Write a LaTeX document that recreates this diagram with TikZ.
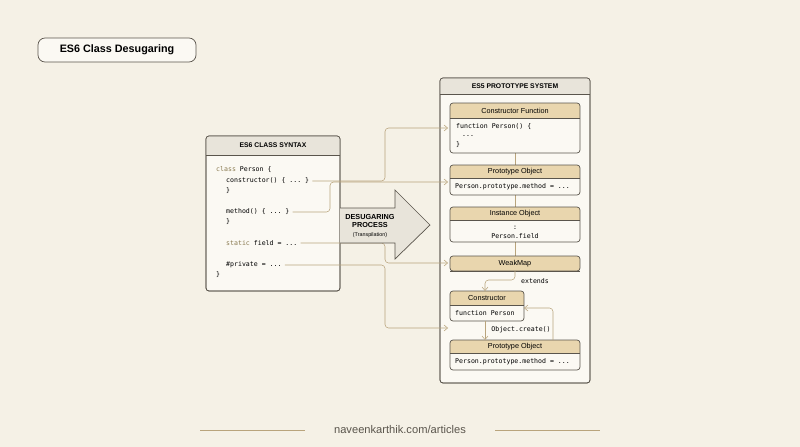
\documentclass[tikz,border=0pt]{standalone}
\usepackage{fontspec}
\setmainfont{Liberation Sans}
\setmonofont{DejaVu Sans Mono}
\usetikzlibrary{arrows.meta}
\definecolor{bg}{HTML}{F5F1E6}
\definecolor{boxf}{HTML}{FBF9F3}
\definecolor{tan}{HTML}{E9D6AE}
\definecolor{gh}{HTML}{E8E4DA}
\definecolor{ln}{HTML}{B9A47C}
\definecolor{bd}{HTML}{5A554C}
\definecolor{kw}{HTML}{8A7A50}
\begin{document}
\begin{tikzpicture}[x=0.03cm,y=-0.03cm,
 frame/.style={draw=bd,line width=0.6pt,rounded corners=2.5pt,fill=boxf},
 hdr/.style={font=\fontsize{6.2}{7}\selectfont},
 bhdr/.style={font=\bfseries\fontsize{5.8}{7}\selectfont},
 code/.style={font=\ttfamily\fontsize{5.6}{6.5}\selectfont,anchor=west,inner sep=0},
 conn/.style={draw=ln,line width=0.45pt,rounded corners=3pt},
 arr/.style={conn,-{Straight Barb[length=3pt,width=5pt]}}]
\fill[bg] (0,0) rectangle (800,447);
\useasboundingbox (0,0) rectangle (800,447);
% title
\node[draw=bd,line width=0.6pt,rounded corners=6pt,fill=boxf,minimum width=158*0.03cm,minimum height=24*0.03cm,font=\bfseries\fontsize{9.2}{10}\selectfont] (title) at (117,50) {ES6 Class Desugaring};
% left box
\draw[frame] (206,136) rectangle (340,291);
\begin{scope}
\clip[rounded corners=2.5pt] (206,136) rectangle (340,291);
\fill[gh] (206,136) rectangle (340,155);
\end{scope}
\draw[frame,fill=none] (206,136) rectangle (340,291);
\draw[bd,line width=0.4pt] (206,155)--(340,155);
\node[bhdr] (lh) at (273,145.5) {ES6 CLASS SYNTAX};
\node[code] (c1) at (216,170) {\textcolor{kw}{class} Person \{};
\node[code] (c2) at (226,181) {constructor() \{ ... \}};
\node[code] (c3) at (226,191) {\}};
\node[code] (c4) at (226,212) {method() \{ ... \}};
\node[code] (c5) at (226,222) {\}};
\node[code] (c6) at (226,243) {\textcolor{kw}{static} field = ...};
\node[code] (c7) at (226,265) {\#private = ...};
\node[code] (c8) at (216,275) {\}};
% right box
\draw[frame] (440,78) rectangle (590,383);
\begin{scope}
\clip[rounded corners=2.5pt] (440,78) rectangle (590,383);
\fill[gh] (440,78) rectangle (590,94);
\end{scope}
\draw[frame,fill=none] (440,78) rectangle (590,383);
\draw[bd,line width=0.4pt] (440,94)--(590,94);
\node[bhdr] (rh) at (515,86) {ES5 PROTOTYPE SYSTEM};
% links between boxes
\draw[conn] (515,153)--(515,165) (515,195)--(515,207) (515,242)--(515,256);
% inner boxes
\newcommand{\ibox}[6]{% x1 y1 x2 y2 yh name
 \begin{scope}\clip[rounded corners=2.5pt] (#1,#2) rectangle (#3,#4);
 \fill[boxf] (#1,#2) rectangle (#3,#4);
 \fill[tan] (#1,#2) rectangle (#3,#5);\end{scope}
 \draw[draw=bd,line width=0.6pt,rounded corners=2.5pt] (#1,#2) rectangle (#3,#4);
 \draw[bd,line width=0.4pt] (#1,#5)--(#3,#5);
 \coordinate (#6) at (#1,{(#2+#5)/2});}
\ibox{450}{103}{580}{153}{118}{cf}
\node[hdr] (cft) at (515,110.5) {Constructor Function};
\node[code] (f1) at (456,127) {function Person() \{};
\node[code] (f2) at (462,136) {...};
\node[code] (f3) at (456,145) {\}};
\ibox{450}{165}{580}{195}{178}{po}
\node[hdr] (pot) at (515,171.5) {Prototype Object};
\node[code] (p1) at (455,187) {Person.prototype.method = ...};
\ibox{450}{207}{580}{242}{220}{io}
\node[hdr] (iot) at (515,213.5) {Instance Object};
\node[code,anchor=center] (i1) at (515,228) {:};
\node[code,anchor=center] (i2) at (515,236) {Person.field};
\ibox{450}{256}{580}{271}{271}{wm}
\node[hdr] (wmt) at (515,263.5) {WeakMap};
\ibox{450}{291}{524}{321}{305}{co}
\node[hdr] (cot) at (487,298) {Constructor};
\node[code] (k1) at (455,313) {function Person};
\ibox{450}{340}{580}{370}{353}{p2}
\node[hdr] (p2t) at (515,346.5) {Prototype Object};
\node[code] (q1) at (455,362) {Person.prototype.method = ...};
% internal arrows
\coordinate (wmb) at (515,271);
\coordinate (cotop) at (485,291);
\draw[arr] (wmb) -- (515,280) -- (485,280) -- (cotop);
\node[font=\ttfamily\fontsize{5.6}{6}\selectfont] (ext) at (535,281) {extends};
\draw[arr] (485,321) -- (485,340);
\node[font=\ttfamily\fontsize{5.6}{6}\selectfont] (oc) at (521,330) {Object.create()};
\draw[arr] (553,340) -- (553,308) -- (524,308);
% connectors from left
\draw[arr] (c2.east) ++(3,0) -- (385,181) -- (385,128) -- (448,128);
\draw[arr] (c4.east) ++(3,0) -- (330,212) -- (330,182) -- (448,182);
\draw[arr] (c6.east) ++(3,0) -- (385,243) -- (385,263) -- (448,263);
\draw[arr] (c7.east) ++(3,0) -- (385,265) -- (385,328) -- (448,328);
% big arrow
\draw[bd,line width=0.6pt,fill=gh] (340,208) -- (395,208) -- (395,190) -- (430,225) -- (395,259) -- (395,243) -- (340,243);
\node[align=center,font=\bfseries\fontsize{6.2}{7.2}\selectfont] (dp) at (370,221) {DESUGARING\\PROCESS};
\node[font=\fontsize{4.6}{5}\selectfont] (tr) at (370,235) {(Transpilation)};
% footer
\draw[ln,line width=0.5pt] (200,430) -- (305,430) (495,430) -- (600,430);
\node[font=\fontsize{9.5}{11}\selectfont,text=bd] (ft) at (400,430) {naveenkarthik.com/articles};
\end{tikzpicture}
\end{document}
